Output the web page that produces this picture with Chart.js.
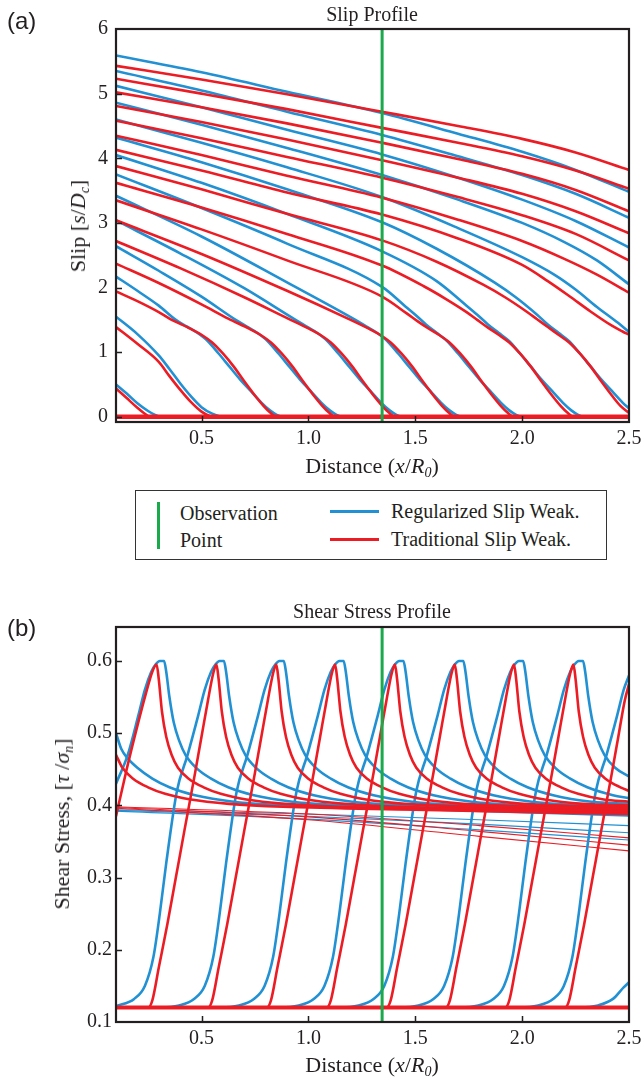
<!DOCTYPE html>
<html>
<head>
<meta charset="utf-8">
<script src="https://cdn.jsdelivr.net/npm/chart.js@4.4.1/dist/chart.umd.min.js"></script>
<style>
  html, body { margin: 0; padding: 0; background: #fff; }
  body { width: 644px; height: 1083px; position: relative; overflow: hidden;
         font-family: "Liberation Serif", "Times New Roman", serif; color: #231f20; }
  canvas { position: absolute; left: 0; }
  .t { position: absolute; white-space: nowrap; font-size: 20px; line-height: 20px; }
  .ax { font-size: 22px; line-height: 22px; }
  .c { transform: translateX(-50%); }
  .rot { transform: translate(-50%, -50%) rotate(-90deg); }
  .tag { font-family: "Liberation Sans", Arial, sans-serif; font-size: 24px; line-height: 24px; }
  sub { font-size: 14px; vertical-align: -4px; line-height: 0; }
  #legend { position: absolute; left: 135px; top: 490px; width: 470px; height: 68px;
            border: 1.5px solid #333; }
  .sw { position: absolute; }
</style>
</head>
<body>
<canvas id="slip" width="644" height="480" style="top:0"></canvas>
<canvas id="stress" width="644" height="503" style="top:580px"></canvas>

<div class="t tag" style="left:7px;top:9px">(a)</div>
<div class="t tag" style="left:7px;top:616px">(b)</div>

<div class="t c" style="left:372px;top:4px">Slip Profile</div>
<div class="t ax c" style="left:372px;top:455px">Distance (<i>x</i>/<i>R<sub>0</sub></i>)</div>
<div class="t ax rot" style="left:78px;top:226px">Slip [<i>s</i>/<i>D<sub>c</sub></i>]</div>

<div id="legend"></div>
<div class="sw" style="left:157px;top:502px;width:3px;height:47px;background:#1aaa4b"></div>
<div class="t" style="left:180px;top:503px">Observation</div>
<div class="t" style="left:180px;top:530px">Point</div>
<div class="sw" style="left:330px;top:510px;width:49px;height:3px;background:#2191d3"></div>
<div class="sw" style="left:330px;top:538px;width:49px;height:3px;background:#ec1c24"></div>
<div class="t" style="left:391px;top:501px">Regularized Slip Weak.</div>
<div class="t" style="left:391px;top:529px">Traditional Slip Weak.</div>

<div class="t c" style="left:372px;top:601px">Shear Stress Profile</div>
<div class="t ax c" style="left:372px;top:1054px">Distance (<i>x</i>/<i>R<sub>0</sub></i>)</div>
<div class="t ax rot" style="left:62px;top:824px">Shear Stress, [<i>τ</i> /<i>σ<sub>n</sub></i>]</div>

<script>
// ---- axes ----
const xTicks = [0.5, 1.0, 1.5, 2.0, 2.5];
const slipTicks = [0, 1, 2, 3, 4, 5, 6];
const stressTicks = [0.1, 0.2, 0.3, 0.4, 0.5, 0.6];
const obsPoint = 1.345;

// ---- slip snapshots, regularized slip weakening: [x, s/Dc] ----
const slipRegularized = [
  [[0.1,0.50],[0.15,0.36],[0.2,0.21],[0.25,0.09],[0.28,0.035],[0.31,0],[2.5,0]],
  [[0.1,1.55],[0.2,1.28],[0.3,0.95],[0.35,0.74],[0.4,0.52],[0.45,0.32],[0.5,0.15],[0.55,0.05],[0.6,0],[2.5,0]],
  [[0.1,2.17],[0.2,1.95],[0.3,1.72],[0.38,1.5],[0.43,1.4],[0.48,1.3],[0.53,1.17],[0.58,0.98],[0.63,0.78],[0.68,0.58],[0.73,0.4],[0.78,0.22],[0.82,0.1],[0.85,0.035],[0.88,0],[2.5,0]],
  [[0.1,2.64],[0.3,2.26],[0.5,1.86],[0.66,1.5],[0.71,1.4],[0.76,1.3],[0.81,1.17],[0.86,0.98],[0.91,0.78],[0.96,0.58],[1.01,0.4],[1.06,0.22],[1.1,0.1],[1.13,0.035],[1.16,0],[2.5,0]],
  [[0.1,3.04],[0.4,2.53],[0.7,1.99],[0.94,1.5],[0.99,1.4],[1.04,1.3],[1.09,1.17],[1.14,0.98],[1.19,0.78],[1.24,0.58],[1.29,0.4],[1.34,0.22],[1.38,0.1],[1.41,0.035],[1.44,0],[2.5,0]],
  [[0.1,3.42],[0.5,2.79],[0.9,2.08],[1.22,1.5],[1.27,1.4],[1.32,1.3],[1.37,1.17],[1.42,0.98],[1.47,0.78],[1.52,0.58],[1.57,0.4],[1.62,0.22],[1.66,0.1],[1.69,0.035],[1.72,0],[2.5,0]],
  [[0.1,3.75],[0.5,3.23],[0.9,2.68],[1.345,2.01],[1.45,1.72],[1.5,1.58],[1.55,1.43],[1.6,1.3],[1.65,1.17],[1.7,0.98],[1.75,0.78],[1.8,0.58],[1.85,0.4],[1.9,0.22],[1.94,0.1],[1.97,0.035],[2.0,0],[2.5,0]],
  [[0.1,4.05],[0.5,3.62],[0.9,3.14],[1.345,2.56],[1.6,2.1],[1.74,1.72],[1.79,1.58],[1.84,1.43],[1.89,1.3],[1.94,1.17],[1.99,0.98],[2.04,0.78],[2.09,0.58],[2.14,0.4],[2.19,0.22],[2.23,0.1],[2.26,0.035],[2.29,0],[2.5,0]],
  [[0.1,4.32],[0.5,3.94],[0.9,3.52],[1.345,3.01],[1.6,2.6],[1.87,2.08],[1.97,1.85],[2.07,1.58],[2.12,1.43],[2.17,1.3],[2.22,1.17],[2.27,0.98],[2.32,0.78],[2.37,0.58],[2.42,0.4],[2.47,0.22],[2.5,0.13]],
  [[0.1,4.60],[0.5,4.24],[0.9,3.86],[1.345,3.40],[1.7,2.92],[2.0,2.47],[2.15,2.2],[2.25,1.97],[2.35,1.7],[2.45,1.45],[2.5,1.31]],
  [[0.1,4.86],[0.5,4.52],[0.9,4.16],[1.345,3.74],[1.7,3.36],[2.0,3.0],[2.2,2.7],[2.35,2.42],[2.5,2.05]],
  [[0.1,5.12],[0.5,4.79],[0.9,4.44],[1.345,4.06],[1.7,3.7],[2.0,3.36],[2.25,3.03],[2.5,2.62]],
  [[0.1,5.35],[0.5,5.05],[0.9,4.72],[1.345,4.36],[1.7,4.03],[2.0,3.74],[2.25,3.45],[2.5,3.08]],
  [[0.1,5.59],[0.5,5.33],[0.9,5.03],[1.345,4.70],[1.7,4.38],[2.0,4.1],[2.25,3.82],[2.5,3.48]]
];

// ---- slip snapshots, traditional slip weakening ----
const slipTraditional = [
  [[0.1,0.44],[0.15,0.29],[0.2,0.14],[0.23,0.06],[0.26,0],[2.5,0]],
  [[0.1,1.39],[0.2,1.13],[0.3,0.85],[0.35,0.63],[0.4,0.42],[0.45,0.23],[0.5,0.08],[0.54,0.01],[0.56,0],[2.5,0]],
  [[0.1,1.94],[0.2,1.79],[0.3,1.62],[0.35,1.52],[0.45,1.36],[0.5,1.27],[0.55,1.15],[0.6,0.98],[0.65,0.78],[0.7,0.55],[0.75,0.33],[0.79,0.17],[0.82,0.07],[0.85,0],[2.5,0]],
  [[0.1,2.37],[0.3,2.07],[0.5,1.74],[0.625,1.52],[0.725,1.36],[0.775,1.27],[0.825,1.15],[0.875,0.98],[0.925,0.78],[0.975,0.55],[1.025,0.33],[1.065,0.17],[1.095,0.07],[1.125,0],[2.5,0]],
  [[0.1,2.72],[0.4,2.3],[0.7,1.85],[0.905,1.52],[1.005,1.36],[1.055,1.27],[1.105,1.15],[1.155,0.98],[1.205,0.78],[1.255,0.55],[1.305,0.33],[1.345,0.17],[1.375,0.07],[1.405,0],[2.5,0]],
  [[0.1,3.04],[0.5,2.52],[0.9,1.95],[1.185,1.52],[1.285,1.36],[1.335,1.27],[1.385,1.15],[1.435,0.98],[1.485,0.78],[1.535,0.55],[1.585,0.33],[1.625,0.17],[1.655,0.07],[1.685,0],[2.5,0]],
  [[0.1,3.35],[0.5,2.9],[0.9,2.42],[1.345,1.86],[1.46,1.6],[1.51,1.48],[1.56,1.37],[1.61,1.27],[1.66,1.15],[1.71,0.98],[1.76,0.78],[1.81,0.55],[1.86,0.33],[1.9,0.17],[1.93,0.07],[1.96,0],[2.5,0]],
  [[0.1,3.62],[0.5,3.24],[0.9,2.83],[1.345,2.34],[1.54,2.02],[1.64,1.83],[1.74,1.62],[1.79,1.5],[1.84,1.38],[1.89,1.27],[1.94,1.15],[1.99,0.98],[2.04,0.78],[2.09,0.55],[2.14,0.33],[2.18,0.17],[2.21,0.07],[2.24,0],[2.5,0]],
  [[0.1,3.88],[0.5,3.52],[0.9,3.14],[1.345,2.73],[1.6,2.4],[1.82,2.04],[1.92,1.85],[2.02,1.63],[2.07,1.51],[2.12,1.39],[2.17,1.27],[2.22,1.15],[2.27,0.98],[2.32,0.78],[2.37,0.55],[2.42,0.33],[2.46,0.17],[2.5,0.06]],
  [[0.1,4.13],[0.5,3.81],[0.9,3.47],[1.345,3.13],[1.7,2.76],[2.0,2.35],[2.12,2.1],[2.22,1.87],[2.32,1.63],[2.42,1.41],[2.47,1.32],[2.5,1.27]],
  [[0.1,4.35],[0.5,4.05],[0.9,3.73],[1.345,3.39],[1.7,3.05],[2.0,2.72],[2.2,2.44],[2.35,2.2],[2.5,1.92]],
  [[0.1,4.58],[0.5,4.31],[0.9,4.02],[1.345,3.70],[1.7,3.4],[2.0,3.12],[2.25,2.83],[2.5,2.42]],
  [[0.1,4.81],[0.5,4.56],[0.9,4.29],[1.345,3.97],[1.7,3.7],[2.0,3.45],[2.25,3.18],[2.5,2.84]],
  [[0.1,5.02],[0.5,4.79],[0.9,4.54],[1.345,4.24],[1.7,3.99],[2.0,3.76],[2.25,3.51],[2.5,3.18]],
  [[0.1,5.23],[0.5,5.0],[0.9,4.76],[1.345,4.47],[1.7,4.24],[2.0,4.03],[2.25,3.81],[2.5,3.53]],
  [[0.1,5.43],[0.5,5.22],[0.9,4.99],[1.345,4.72],[1.7,4.5],[2.0,4.3],[2.25,4.09],[2.5,3.82]]
];
// unslipped state ahead of every front
const slipAhead = [[0.1,0],[2.5,0]];

// ---- shear stress snapshots, regularized: [x, tau/sigma_n] ----
const stressRegularized = [
  [[0.1,0.5],[0.125,0.478],[0.155,0.465],[0.2,0.452],[0.27,0.437],[0.35,0.425],[0.47,0.414],[0.65,0.405],[0.9,0.40],[1.5,0.395],[2.5,0.386]],
  [[0.1,0.43],[0.155,0.47],[0.205,0.525],[0.235,0.56],[0.265,0.585],[0.285,0.595],[0.305,0.6],[0.325,0.6],[0.335,0.585],[0.35,0.55],[0.37,0.515],[0.395,0.49],[0.425,0.47],[0.475,0.452],[0.545,0.437],[0.625,0.425],[0.745,0.414],[0.925,0.405],[1.175,0.4],[1.8,0.395],[2.5,0.388]],
  [[0.1,0.122],[0.185,0.132],[0.235,0.15],[0.275,0.19],[0.305,0.25],[0.335,0.32],[0.385,0.42],[0.435,0.47],[0.485,0.525],[0.515,0.56],[0.545,0.585],[0.565,0.595],[0.585,0.6],[0.605,0.6],[0.615,0.585],[0.63,0.55],[0.65,0.515],[0.675,0.49],[0.705,0.47],[0.755,0.452],[0.825,0.437],[0.905,0.425],[1.025,0.414],[1.205,0.405],[1.455,0.40],[2.0,0.396],[2.5,0.39]],
  [[0.1,0.12],[0.315,0.12],[0.395,0.123],[0.465,0.132],[0.515,0.15],[0.555,0.19],[0.585,0.25],[0.615,0.32],[0.665,0.42],[0.715,0.47],[0.765,0.525],[0.795,0.56],[0.825,0.585],[0.845,0.595],[0.865,0.6],[0.885,0.6],[0.895,0.585],[0.91,0.55],[0.93,0.515],[0.955,0.49],[0.985,0.47],[1.035,0.452],[1.105,0.437],[1.185,0.425],[1.305,0.414],[1.485,0.405],[1.735,0.40],[2.5,0.393]],
  [[0.1,0.12],[0.595,0.12],[0.675,0.123],[0.745,0.132],[0.795,0.15],[0.835,0.19],[0.865,0.25],[0.895,0.32],[0.945,0.42],[0.995,0.47],[1.045,0.525],[1.075,0.56],[1.105,0.585],[1.125,0.595],[1.145,0.6],[1.165,0.6],[1.175,0.585],[1.19,0.55],[1.21,0.515],[1.235,0.49],[1.265,0.47],[1.315,0.452],[1.385,0.437],[1.465,0.425],[1.585,0.414],[1.765,0.405],[2.015,0.40],[2.5,0.396]],
  [[0.1,0.12],[0.875,0.12],[0.955,0.123],[1.025,0.132],[1.075,0.15],[1.115,0.19],[1.145,0.25],[1.175,0.32],[1.225,0.42],[1.275,0.47],[1.325,0.525],[1.355,0.56],[1.385,0.585],[1.405,0.595],[1.425,0.6],[1.445,0.6],[1.455,0.585],[1.47,0.55],[1.49,0.515],[1.515,0.49],[1.545,0.47],[1.595,0.452],[1.665,0.437],[1.745,0.425],[1.865,0.414],[2.045,0.405],[2.295,0.40],[2.5,0.399]],
  [[0.1,0.12],[1.155,0.12],[1.235,0.123],[1.305,0.132],[1.355,0.15],[1.395,0.19],[1.425,0.25],[1.455,0.32],[1.505,0.42],[1.555,0.47],[1.605,0.525],[1.635,0.56],[1.665,0.585],[1.685,0.595],[1.705,0.6],[1.725,0.6],[1.735,0.585],[1.75,0.55],[1.77,0.515],[1.795,0.49],[1.825,0.47],[1.875,0.452],[1.945,0.437],[2.025,0.425],[2.145,0.414],[2.325,0.405],[2.5,0.402]],
  [[0.1,0.12],[1.435,0.12],[1.515,0.123],[1.585,0.132],[1.635,0.15],[1.675,0.19],[1.705,0.25],[1.735,0.32],[1.785,0.42],[1.835,0.47],[1.885,0.525],[1.915,0.56],[1.945,0.585],[1.965,0.595],[1.985,0.6],[2.005,0.6],[2.015,0.585],[2.03,0.55],[2.05,0.515],[2.075,0.49],[2.105,0.47],[2.155,0.452],[2.225,0.437],[2.305,0.425],[2.425,0.414],[2.5,0.41]],
  [[0.1,0.12],[1.715,0.12],[1.795,0.123],[1.865,0.132],[1.915,0.15],[1.955,0.19],[1.985,0.25],[2.015,0.32],[2.065,0.42],[2.115,0.47],[2.165,0.525],[2.195,0.56],[2.225,0.585],[2.245,0.595],[2.265,0.6],[2.285,0.6],[2.295,0.585],[2.31,0.55],[2.33,0.515],[2.355,0.49],[2.385,0.47],[2.435,0.452],[2.5,0.44]],
  [[0.1,0.12],[1.995,0.12],[2.075,0.123],[2.145,0.132],[2.195,0.15],[2.235,0.19],[2.265,0.25],[2.295,0.32],[2.345,0.42],[2.395,0.47],[2.445,0.525],[2.475,0.56],[2.5,0.58]],
  [[0.1,0.12],[2.275,0.12],[2.355,0.123],[2.425,0.132],[2.475,0.148],[2.5,0.155]]
];

// ---- shear stress snapshots, traditional ----
const stressTraditional = [
  [[0.1,0.47],[0.13,0.452],[0.18,0.437],[0.25,0.425],[0.33,0.416],[0.45,0.408],[0.63,0.402],[0.88,0.398],[1.5,0.394],[2.5,0.388]],
  [[0.1,0.385],[0.15,0.45],[0.2,0.51],[0.24,0.555],[0.27,0.585],[0.29,0.595],[0.3,0.575],[0.315,0.53],[0.335,0.495],[0.36,0.47],[0.39,0.452],[0.44,0.437],[0.51,0.425],[0.59,0.416],[0.71,0.408],[0.89,0.402],[1.14,0.398],[1.8,0.395],[2.5,0.39]],
  [[0.1,0.12],[0.25,0.12],[0.27,0.13],[0.3,0.175],[0.34,0.235],[0.38,0.3],[0.42,0.365],[0.47,0.445],[0.5,0.495],[0.53,0.545],[0.555,0.583],[0.57,0.595],[0.58,0.575],[0.595,0.53],[0.615,0.495],[0.64,0.47],[0.67,0.452],[0.72,0.437],[0.79,0.425],[0.87,0.416],[0.99,0.408],[1.17,0.402],[1.42,0.398],[2.0,0.395],[2.5,0.392]],
  [[0.1,0.12],[0.53,0.12],[0.55,0.13],[0.58,0.175],[0.62,0.235],[0.66,0.3],[0.70,0.365],[0.75,0.445],[0.78,0.495],[0.81,0.545],[0.835,0.583],[0.85,0.595],[0.86,0.575],[0.875,0.53],[0.895,0.495],[0.92,0.47],[0.95,0.452],[1.0,0.437],[1.07,0.425],[1.15,0.416],[1.27,0.408],[1.45,0.402],[1.7,0.399],[2.5,0.395]],
  [[0.1,0.12],[0.805,0.12],[0.825,0.13],[0.855,0.175],[0.895,0.235],[0.935,0.3],[0.975,0.365],[1.025,0.445],[1.055,0.495],[1.085,0.545],[1.11,0.583],[1.125,0.595],[1.135,0.575],[1.15,0.53],[1.17,0.495],[1.195,0.47],[1.225,0.452],[1.275,0.437],[1.345,0.425],[1.425,0.416],[1.545,0.408],[1.725,0.402],[1.975,0.399],[2.5,0.397]],
  [[0.1,0.12],[1.085,0.12],[1.105,0.13],[1.135,0.175],[1.175,0.235],[1.215,0.3],[1.255,0.365],[1.305,0.445],[1.335,0.495],[1.365,0.545],[1.39,0.583],[1.405,0.595],[1.415,0.575],[1.43,0.53],[1.45,0.495],[1.475,0.47],[1.505,0.452],[1.555,0.437],[1.625,0.425],[1.705,0.416],[1.825,0.408],[2.005,0.402],[2.255,0.399],[2.5,0.398]],
  [[0.1,0.12],[1.365,0.12],[1.385,0.13],[1.415,0.175],[1.455,0.235],[1.495,0.3],[1.535,0.365],[1.585,0.445],[1.615,0.495],[1.645,0.545],[1.67,0.583],[1.685,0.595],[1.695,0.575],[1.71,0.53],[1.73,0.495],[1.755,0.47],[1.785,0.452],[1.835,0.437],[1.905,0.425],[1.985,0.416],[2.105,0.408],[2.285,0.402],[2.5,0.4]],
  [[0.1,0.12],[1.642,0.12],[1.662,0.13],[1.692,0.175],[1.732,0.235],[1.772,0.3],[1.812,0.365],[1.862,0.445],[1.892,0.495],[1.922,0.545],[1.947,0.583],[1.962,0.595],[1.972,0.575],[1.987,0.53],[2.007,0.495],[2.032,0.47],[2.062,0.452],[2.112,0.437],[2.182,0.425],[2.262,0.416],[2.382,0.408],[2.5,0.405]],
  [[0.1,0.12],[1.92,0.12],[1.94,0.13],[1.97,0.175],[2.01,0.235],[2.05,0.3],[2.09,0.365],[2.14,0.445],[2.17,0.495],[2.2,0.545],[2.225,0.583],[2.24,0.595],[2.25,0.575],[2.265,0.53],[2.285,0.495],[2.31,0.47],[2.34,0.452],[2.39,0.437],[2.46,0.425],[2.5,0.42]],
  [[0.1,0.12],[2.2,0.12],[2.22,0.13],[2.25,0.175],[2.29,0.235],[2.33,0.3],[2.37,0.365],[2.42,0.445],[2.45,0.495],[2.48,0.545],[2.5,0.568]]
];

// early (pre-rupture) stress states, drawn thin
const stressRegularizedEarly = [
  [[0.1,0.394],[1.0,0.388],[1.8,0.38],[2.5,0.372]],
  [[0.1,0.393],[1.0,0.385],[1.8,0.374],[2.5,0.362]],
  [[0.1,0.392],[1.0,0.381],[1.8,0.366],[2.5,0.352]]
];
const stressTraditionalEarly = [
  [[0.1,0.398],[1.0,0.388],[1.8,0.372],[2.5,0.355]],
  [[0.1,0.397],[1.0,0.384],[1.8,0.364],[2.5,0.345]],
  [[0.1,0.396],[1.0,0.38],[1.8,0.357],[2.5,0.337]]
];
// fully weakened state behind every front
const stressResidual = [[0.1,0.12],[2.5,0.12]];

// ---- drawing ----
const BLUE = '#2191d3', RED = '#ec1c24', GREEN = '#1aaa4b', INK = '#231f20';
const FONT = '"Liberation Serif", "Times New Roman", serif';
const pts = c => c.map(p => ({ x: p[0], y: p[1] }));

function curve(c, color, width, order) {
  return { data: pts(c), borderColor: color, borderWidth: width, order: order,
           cubicInterpolationMode: 'monotone', pointRadius: 0, fill: false };
}

const framePlugin = {
  id: 'frame',
  afterDraw(chart) {
    const { ctx, chartArea: a, scales } = chart;
    ctx.save();
    ctx.strokeStyle = INK;
    ctx.lineWidth = 1.5;
    ctx.beginPath();
    scales.x.ticks.forEach(t => {
      if (t.value <= scales.x.min || t.value >= scales.x.max) return;
      const px = Math.round(scales.x.getPixelForValue(t.value)) + 0.5;
      ctx.moveTo(px, a.bottom); ctx.lineTo(px, a.bottom - 6);
    });
    scales.y.ticks.forEach(t => {
      if (t.value <= scales.y.min || t.value >= scales.y.max) return;
      const py = Math.round(scales.y.getPixelForValue(t.value)) + 0.5;
      ctx.moveTo(a.left, py); ctx.lineTo(a.left + 6, py);
    });
    ctx.stroke();
    ctx.lineWidth = 2.2;
    ctx.strokeRect(a.left, a.top, a.right - a.left, a.bottom - a.top);
    ctx.restore();
  }
};

function makeChart(id, datasets, yMin, yMax, yTicks, yDigits, padTop, xAxisH, yPad) {
  return new Chart(document.getElementById(id), {
    type: 'line',
    data: { datasets },
    plugins: [framePlugin],
    options: {
      responsive: false, animation: false, events: [],
      layout: { padding: { top: padTop, right: 15, left: 0, bottom: 0 } },
      plugins: { legend: { display: false }, tooltip: { enabled: false }, title: { display: false } },
      scales: {
        x: {
          type: 'linear', min: 0.1, max: 2.5,
          grid: { display: false, drawTicks: false }, border: { display: false },
          afterBuildTicks: s => { s.ticks = xTicks.map(v => ({ value: v })); },
          ticks: { font: { family: FONT, size: 20 }, color: INK, padding: 5, maxRotation: 0,
                   autoSkip: false, callback: v => Number(v).toFixed(1) },
          afterFit: s => { s.height = xAxisH; s.paddingLeft = 0; s.paddingRight = 0; }
        },
        y: {
          type: 'linear', min: yMin, max: yMax,
          grid: { display: false, drawTicks: false }, border: { display: false },
          afterBuildTicks: s => { s.ticks = yTicks.map(v => ({ value: v })); },
          ticks: { font: { family: FONT, size: 20 }, color: INK, padding: yPad, autoSkip: false,
                   callback: v => Number(v).toFixed(yDigits) },
          afterFit: s => { s.width = 116; s.paddingTop = 0; s.paddingBottom = 0; }
        }
      }
    }
  });
}

// slip panel
const slipMin = -0.08, slipMax = 6;
const slipSets = [];
slipSets.push(curve([[obsPoint, slipMin], [obsPoint, slipMax]], GREEN, 3, 0));
slipSets.push(curve(slipAhead, RED, 4.5, 1));
slipTraditional.forEach(c => slipSets.push(curve(c, RED, 2.6, 2)));
slipRegularized.forEach(c => slipSets.push(curve(c, BLUE, 2.6, 3)));
makeChart('slip', slipSets, slipMin, slipMax, slipTicks, 0, 29, 58, 8);

// stress panel
const stressMin = 0.1, stressMax = 0.647;
const stressSets = [];
stressSets.push(curve([[obsPoint, stressMin], [obsPoint, stressMax]], GREEN, 3, 0));
stressSets.push(curve(stressResidual, RED, 4, 1));
stressTraditional.forEach(c => stressSets.push(curve(c, RED, 2.6, 2)));
stressRegularized.forEach(c => stressSets.push(curve(c, BLUE, 2.6, 3)));
stressTraditionalEarly.forEach(c => stressSets.push(curve(c, RED, 1.1, 4)));
stressRegularizedEarly.forEach(c => stressSets.push(curve(c, BLUE, 1.1, 5)));
makeChart('stress', stressSets, stressMin, stressMax, stressTicks, 1, 47, 61, 4);
</script>
</body>
</html>
